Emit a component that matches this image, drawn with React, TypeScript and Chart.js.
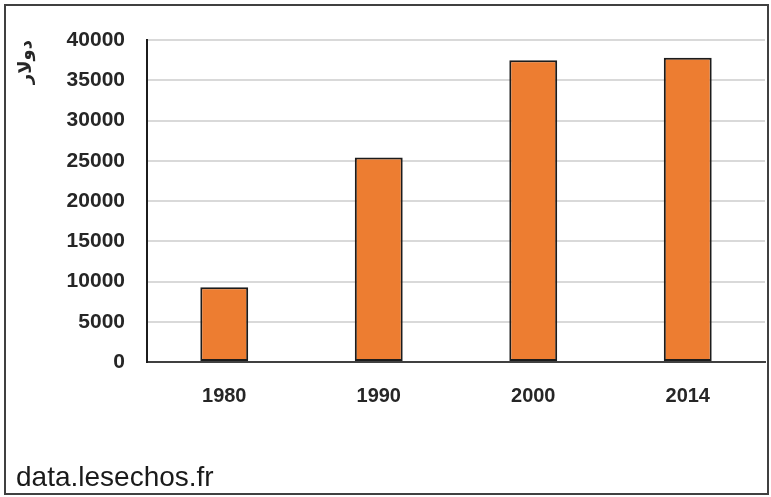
import React, { useEffect, useRef } from "react";
import { Chart, registerables } from "chart.js";

Chart.register(...registerables);

const categories = ["1980", "1990", "2000", "2014"];
const values = [9300, 25400, 37500, 37800];
const yTitle = "دولار";
const sourceText = "data.lesechos.fr";

export default function App() {
  const ref = useRef<HTMLCanvasElement | null>(null);
  useEffect(() => {
    if (!ref.current) return;
    const chart = new Chart(ref.current, {
      type: "bar",
      data: {
        labels: categories,
        datasets: [
          {
            data: values,
            backgroundColor: "#ED7D31",
            borderColor: "#1c1c1c",
            borderWidth: 2,
            borderSkipped: false,
            categoryPercentage: 1,
            barPercentage: 0.31,
          },
        ],
      },
      options: {
        animation: false,
        responsive: false,
        maintainAspectRatio: false,
        layout: { padding: { left: 0, top: 40, right: 6, bottom: 0 } },
        plugins: { legend: { display: false }, tooltip: { enabled: false } },
        scales: {
          x: {
            grid: { display: false, drawTicks: false },
            border: { display: true, color: "#404040", width: 2 },
            ticks: {
              color: "#262626",
              padding: 22,
              font: { family: "'Liberation Sans', sans-serif", size: 20, weight: "bold" },
            },
            afterFit: (s: any) => {
              s.height = 135;
            },
          },
          y: {
            min: 0,
            max: 40000,
            grid: { color: "#d9d9d9", lineWidth: 2, drawTicks: false },
            border: { display: true, color: "#1c1c1c", width: 2 },
            ticks: {
              stepSize: 5000,
              color: "#262626",
              padding: 22,
              callback: (v: any) => String(v),
              font: { family: "'Liberation Sans', sans-serif", size: 21, weight: "bold" },
            },
            title: {
              display: true,
              text: yTitle,
              align: "end",
              color: "#262626",
              padding: { top: 16, bottom: 0 },
              font: { family: "'DejaVu Sans', sans-serif", size: 18, weight: "bold" },
            },
            afterFit: (s: any) => {
              s.width = 147;
            },
          },
        },
      },
    });
    return () => chart.destroy();
  }, []);

  return (
    <div style={{ position: "fixed", left: 0, top: 0, width: 771, height: 497, background: "#fff", overflow: "hidden" }}>
      <canvas ref={ref} width={771} height={497} style={{ position: "absolute", left: 0, top: 0, width: 771, height: 497 }} />
      <div
        style={{
          position: "absolute",
          left: 4,
          top: 4,
          width: 765,
          height: 491,
          border: "2px solid #404040",
          boxSizing: "border-box",
          pointerEvents: "none",
        }}
      />
      <div
        style={{
          position: "absolute",
          left: 16,
          top: 463,
          fontFamily: "'Liberation Sans', Arial, sans-serif",
          fontSize: 28,
          lineHeight: "28px",
          color: "#1a1a1a",
          whiteSpace: "nowrap",
        }}
      >
        {sourceText}
      </div>
    </div>
  );
}
